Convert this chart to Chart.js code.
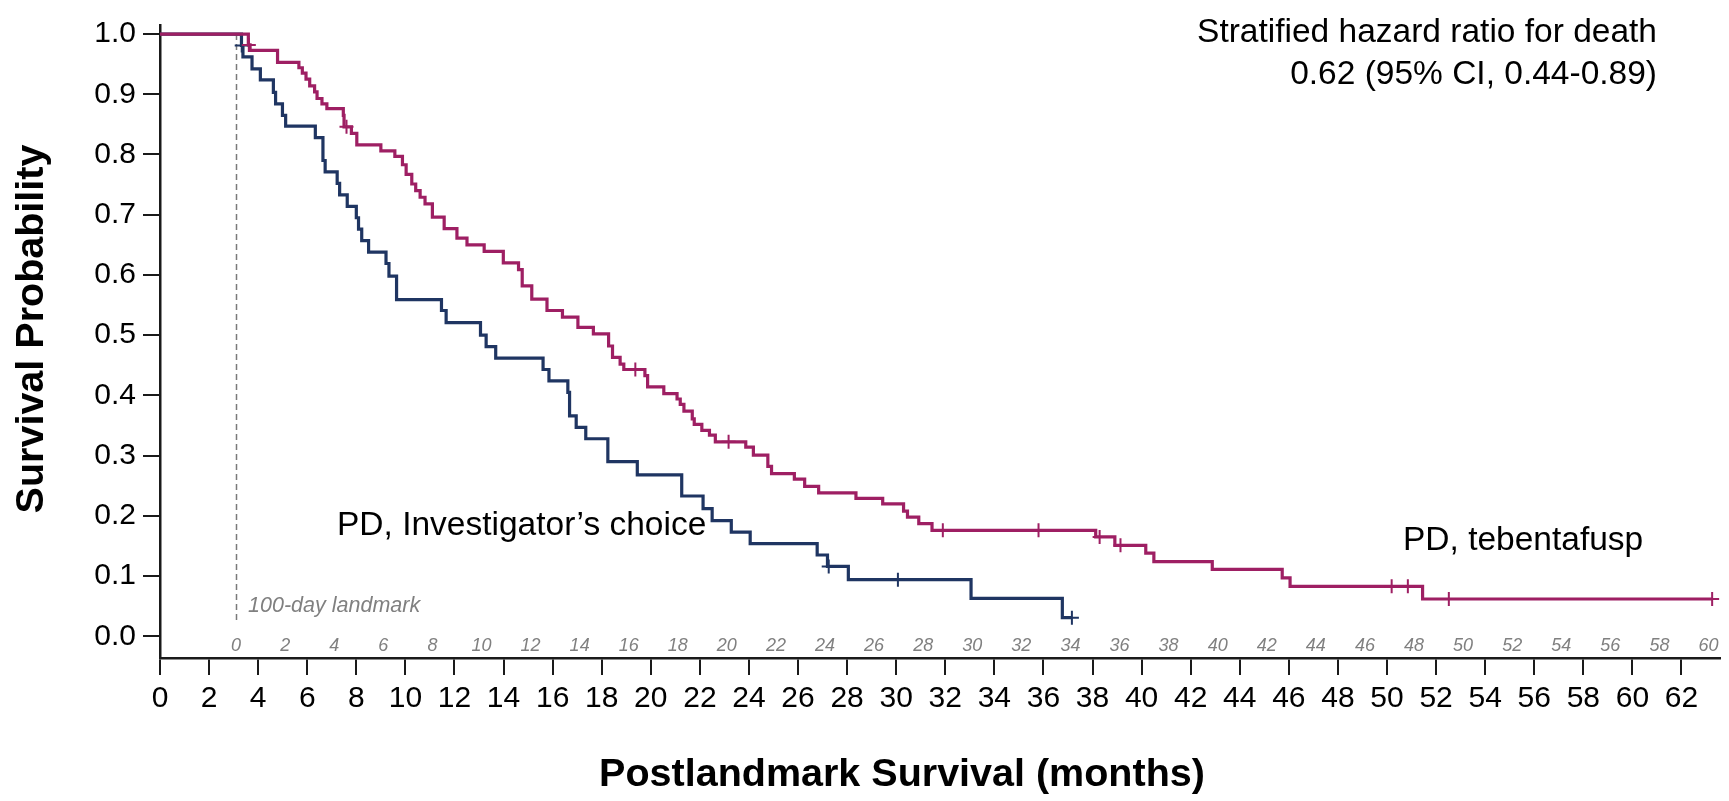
<!DOCTYPE html>
<html>
<head>
<meta charset="utf-8">
<title>Postlandmark survival</title>
<script src="https://cdn.jsdelivr.net/npm/chart.js@4.4.1/dist/chart.umd.min.js"></script>
<style>
  html, body { margin: 0; padding: 0; background: #ffffff; }
  #wrap { width: 1729px; height: 801px; position: relative; }
</style>
</head>
<body>
<div id="wrap"><canvas id="km" width="1729" height="801"></canvas></div>
<script>
// Kaplan-Meier steps: time (months) at which the curve drops, and survival after the drop.
// The last entry of each series is the end of follow-up.
const tebentafuspTimes = [
  0, 3.6, 3.67, 4.79, 5.66, 5.8, 5.95, 6.1, 6.3, 6.4, 6.6, 6.8, 7.47, 7.5, 7.8, 8.02,
  9.0, 9.57, 9.88, 10.03, 10.26, 10.42, 10.6, 10.8, 11.1, 11.58, 12.1, 12.51, 13.21,
  13.99, 14.61, 14.76, 15.15, 15.77, 16.4, 17.03, 17.66, 18.28, 18.44, 18.75, 18.9,
  19.76, 19.87, 20.53, 21.07, 21.2, 21.35, 21.69, 21.77, 22.08, 22.39, 22.63, 23.87,
  24.18, 24.77, 24.92, 25.85, 26.27, 26.84, 28.36, 29.45, 30.3, 30.46, 30.92, 31.46,
  38.13, 38.91, 40.17, 40.5, 42.88, 45.73, 46.05, 51.45, 63.25
];
const tebentafuspSurvival = [
  1.0, 0.982, 0.973, 0.953, 0.944, 0.935, 0.925, 0.914, 0.904, 0.893, 0.884, 0.876, 0.865, 0.846, 0.835, 0.816,
  0.806, 0.797, 0.783, 0.767, 0.751, 0.740, 0.729, 0.718, 0.696, 0.677, 0.661, 0.650, 0.639,
  0.620, 0.609, 0.582, 0.560, 0.541, 0.530, 0.513, 0.502, 0.482, 0.463, 0.452, 0.443,
  0.433, 0.414, 0.403, 0.394, 0.385, 0.374, 0.361, 0.352, 0.342, 0.334, 0.323, 0.314,
  0.301, 0.282, 0.270, 0.261, 0.249, 0.238, 0.229, 0.220, 0.208, 0.198, 0.187, 0.176,
  0.165, 0.151, 0.138, 0.124, 0.111, 0.097, 0.083, 0.062, 0.062
];
const tebentafuspCensorTimes = [3.62, 7.6, 19.37, 23.17, 31.9, 35.8, 38.29, 39.14, 50.19, 50.85, 52.52, 63.25];

const investigatorTimes = [
  0, 3.32, 3.38, 3.75, 4.09, 4.62, 4.71, 4.99, 5.12, 6.33, 6.64, 6.73, 7.22, 7.32, 7.63,
  8.0, 8.09, 8.22, 8.5, 9.21, 9.33, 9.64, 11.47, 11.66, 13.06, 13.29, 13.68, 15.61, 15.85,
  16.62, 16.69, 16.96, 17.35, 18.25, 19.45, 21.26, 22.13, 22.5, 23.28, 24.05, 26.78, 27.2,
  28.05, 33.05, 36.77, 37.16
];
const investigatorSurvival = [
  1.0, 0.981, 0.962, 0.942, 0.924, 0.903, 0.884, 0.865, 0.847, 0.828, 0.790, 0.771, 0.752, 0.733, 0.714,
  0.695, 0.676, 0.657, 0.638, 0.619, 0.598, 0.559, 0.541, 0.521, 0.500, 0.481, 0.462, 0.443, 0.424,
  0.405, 0.366, 0.347, 0.328, 0.290, 0.268, 0.233, 0.212, 0.192, 0.173, 0.154, 0.135, 0.116,
  0.094, 0.063, 0.031, 0.031
];
const investigatorCensorTimes = [3.33, 27.25, 30.07, 37.16];

// Axis ticks
const xTickValues = [0, 2, 4, 6, 8, 10, 12, 14, 16, 18, 20, 22, 24, 26, 28, 30, 32, 34, 36, 38, 40,
  42, 44, 46, 48, 50, 52, 54, 56, 58, 60, 62];
const yTickValues = [0, 0.1, 0.2, 0.3, 0.4, 0.5, 0.6, 0.7, 0.8, 0.9, 1.0];
// Months counted from the 100-day landmark, printed inside the plot above the axis
const landmarkMonth = 3.1;
const landmarkTickLabels = [0, 2, 4, 6, 8, 10, 12, 14, 16, 18, 20, 22, 24, 26, 28, 30, 32, 34, 36, 38,
  40, 42, 44, 46, 48, 50, 52, 54, 56, 58, 60];

const PINK = '#9e1f63';
const NAVY = '#1f3562';
const FONT = '"Liberation Sans", Arial, Helvetica, sans-serif';

function stepPoints(times, surv) {
  return times.map((t, i) => ({ x: t, y: surv[i] }));
}
function survivalAt(times, surv, t) {
  let s = surv[0];
  for (let i = 0; i < times.length; i++) {
    if (times[i] <= t) s = surv[i]; else break;
  }
  return s;
}
function censorPoints(cTimes, times, surv) {
  return cTimes.map(t => ({ x: t, y: survivalAt(times, surv, t) }));
}

const landmarkPlugin = {
  id: 'landmark',
  beforeDatasetsDraw(chart) {
    const { ctx, scales: { x, y } } = chart;
    const px = Math.round(x.getPixelForValue(landmarkMonth)) + 0.5;
    ctx.save();
    ctx.strokeStyle = '#7a7a7a';
    ctx.lineWidth = 1.5;
    ctx.setLineDash([6, 4]);
    ctx.beginPath();
    ctx.moveTo(px, y.getPixelForValue(1.0));
    ctx.lineTo(px, y.getPixelForValue(0.023));
    ctx.stroke();
    ctx.restore();
  },
  afterDraw(chart) {
    const { ctx, scales: { x } } = chart;
    ctx.save();
    // landmark-relative month labels
    ctx.fillStyle = '#808080';
    ctx.font = 'italic 18px ' + FONT;
    ctx.textAlign = 'center';
    ctx.textBaseline = 'alphabetic';
    landmarkTickLabels.forEach(k => {
      ctx.fillText(String(k), x.getPixelForValue(landmarkMonth + k), 651);
    });
    ctx.textAlign = 'left';
    ctx.font = 'italic 21.5px ' + FONT;
    ctx.fillText('100-day landmark', x.getPixelForValue(landmarkMonth) + 12, 612);

    // hazard ratio note
    ctx.fillStyle = '#000000';
    ctx.font = '33.5px ' + FONT;
    ctx.textAlign = 'right';
    ctx.fillText('Stratified hazard ratio for death', 1657, 42);
    ctx.fillText('0.62 (95% CI, 0.44-0.89)', 1657, 84);

    // curve labels
    ctx.textAlign = 'left';
    ctx.fillText('PD, Investigator\u2019s choice', 337, 535);
    ctx.fillText('PD, tebentafusp', 1403, 550);

    // axis titles
    ctx.font = 'bold 39.5px ' + FONT;
    ctx.textAlign = 'center';
    ctx.fillText('Postlandmark Survival (months)', 902, 786);
    ctx.translate(43, 329);
    ctx.rotate(-Math.PI / 2);
    ctx.font = 'bold 39.5px ' + FONT;
    ctx.fillText('Survival Probability', 0, 0);
    ctx.restore();
  }
};

const axisColor = '#1a1a1a';

new Chart(document.getElementById('km'), {
  type: 'scatter',
  data: {
    datasets: [
      {
        label: 'PD, Investigator\u2019s choice',
        data: stepPoints(investigatorTimes, investigatorSurvival),
        showLine: true,
        stepped: 'before',
        borderColor: NAVY,
        borderWidth: 3.2,
        pointRadius: 0,
        fill: false,
        order: 3
      },
      {
        label: 'PD, tebentafusp',
        data: stepPoints(tebentafuspTimes, tebentafuspSurvival),
        showLine: true,
        stepped: 'before',
        borderColor: PINK,
        borderWidth: 3.2,
        pointRadius: 0,
        fill: false,
        order: 2
      },
      {
        label: 'Censored, Investigator\u2019s choice',
        data: censorPoints(investigatorCensorTimes, investigatorTimes, investigatorSurvival),
        showLine: false,
        pointStyle: 'cross',
        pointRadius: 7,
        pointBorderWidth: 2,
        borderColor: NAVY,
        backgroundColor: NAVY,
        order: 1
      },
      {
        label: 'Censored, tebentafusp',
        data: censorPoints(tebentafuspCensorTimes, tebentafuspTimes, tebentafuspSurvival),
        showLine: false,
        pointStyle: 'cross',
        pointRadius: 7,
        pointBorderWidth: 2,
        borderColor: PINK,
        backgroundColor: PINK,
        order: 0
      }
    ]
  },
  options: {
    responsive: false,
    devicePixelRatio: 1,
    animation: false,
    layout: { padding: { top: 15, right: 0, bottom: 0, left: 0 } },
    plugins: { legend: { display: false }, tooltip: { enabled: false } },
    elements: { line: { borderJoinStyle: 'miter', borderCapStyle: 'butt' } },
    scales: {
      x: {
        type: 'linear',
        min: 0,
        max: 63.57,
        afterFit(scale) { scale.height = 143; },
        afterBuildTicks(scale) { scale.ticks = xTickValues.map(v => ({ value: v })); },
        border: { display: true, color: axisColor, width: 2.5 },
        grid: { drawOnChartArea: false, drawTicks: true, tickLength: 17, color: axisColor, lineWidth: 2 },
        ticks: {
          autoSkip: false,
          maxRotation: 0,
          padding: 6,
          color: '#000000',
          font: { family: FONT, size: 30 },
          callback: v => String(v)
        }
      },
      y: {
        type: 'linear',
        min: -0.036,
        max: 1.015,
        afterFit(scale) { scale.width = 160; },
        afterBuildTicks(scale) { scale.ticks = yTickValues.map(v => ({ value: v })); },
        border: { display: true, color: axisColor, width: 2.5 },
        grid: { drawOnChartArea: false, drawTicks: true, tickLength: 17, color: axisColor, lineWidth: 2 },
        ticks: {
          padding: 7,
          color: '#000000',
          font: { family: FONT, size: 30 },
          callback: v => Number(v).toFixed(1)
        }
      }
    }
  },
  plugins: [landmarkPlugin]
});
</script>
</body>
</html>
